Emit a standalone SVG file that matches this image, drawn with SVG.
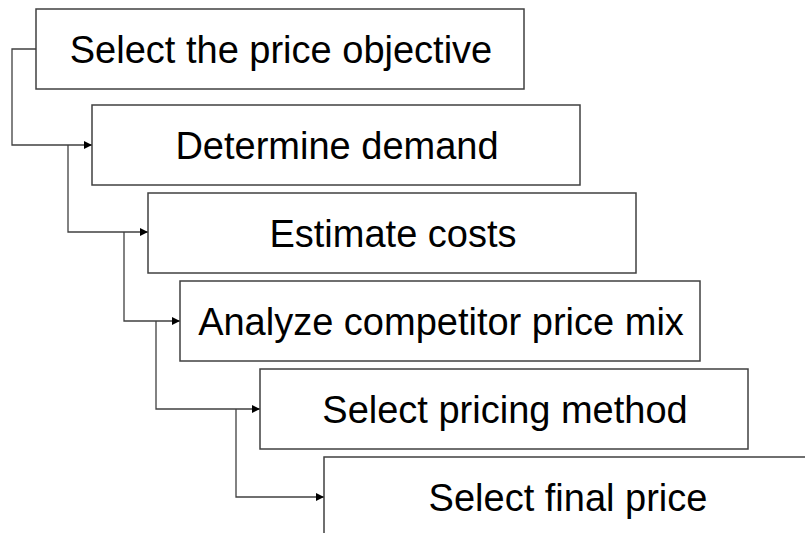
<svg xmlns="http://www.w3.org/2000/svg" width="805" height="533" viewBox="0 0 805 533">
<style>
.box{fill:#fff;stroke:#404040;stroke-width:1.5}
.lbl{font-family:"Liberation Sans",Arial,sans-serif;font-size:38px;fill:#000;text-anchor:middle}
.con{fill:none;stroke:#404040;stroke-width:1.3}
</style>
<defs>
<marker id="ah" viewBox="0 0 10 10" refX="10" refY="5" markerWidth="8" markerHeight="8" markerUnits="userSpaceOnUse" orient="auto">
<path d="M0,0 L10,5 L0,10 Z" fill="#000"/>
</marker>
</defs>
<rect width="805" height="533" fill="#fff"/>
<g id="connectors">
<path class="con" d="M36,49 H12 V145 H92" marker-end="url(#ah)"/>
<path class="con" d="M68,145 V232 H148" marker-end="url(#ah)"/>
<path class="con" d="M124,232 V321 H180" marker-end="url(#ah)"/>
<path class="con" d="M156,321 V409 H260" marker-end="url(#ah)"/>
<path class="con" d="M236,409 V497 H324" marker-end="url(#ah)"/>
</g>
<g id="n1"><rect class="box" x="36" y="9" width="488" height="80"/><text class="lbl" x="281" y="63">Select the price objective</text></g>
<g id="n2"><rect class="box" x="92" y="105" width="488" height="80"/><text class="lbl" x="337" y="159">Determine demand</text></g>
<g id="n3"><rect class="box" x="148" y="193" width="488" height="80"/><text class="lbl" x="393" y="247">Estimate costs</text></g>
<g id="n4"><rect class="box" x="180" y="281" width="520" height="80"/><text class="lbl" x="441" y="335">Analyze competitor price mix</text></g>
<g id="n5"><rect class="box" x="260" y="369" width="488" height="80"/><text class="lbl" x="505" y="423">Select pricing method</text></g>
<g id="n6"><rect class="box" x="324" y="457" width="488" height="80"/><text class="lbl" x="568" y="511">Select final price</text></g>
</svg>
